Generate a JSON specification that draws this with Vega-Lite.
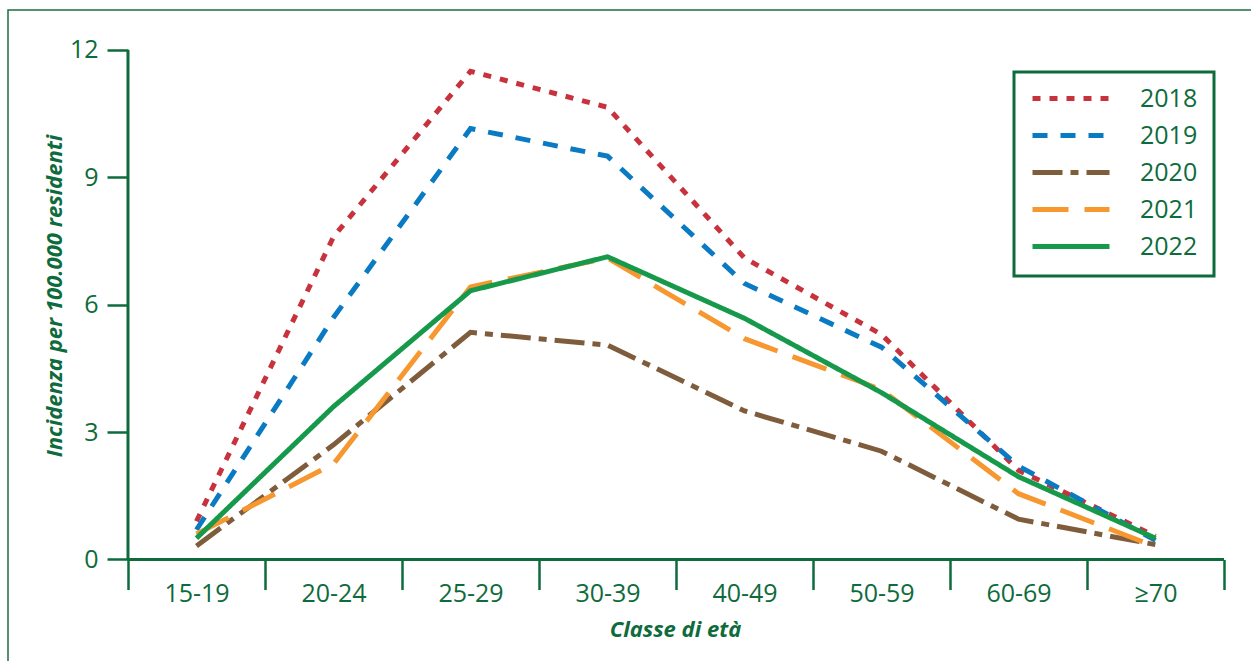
{
  "$schema": "https://vega.github.io/schema/vega-lite/v6.json",
  "width": 1250,
  "height": 660,
  "padding": {"left": 8, "top": 10, "right": 0, "bottom": 0},
  "config": {
    "font": "Open Sans",
    "view": {"stroke": "#1E6E40", "strokeWidth": 1.5}
  },
  "data": {
    "values": [
      {"age": "15-19", "year": "2018", "value": 0.9},
      {"age": "20-24", "year": "2018", "value": 7.6},
      {"age": "25-29", "year": "2018", "value": 11.5},
      {"age": "30-39", "year": "2018", "value": 10.65},
      {"age": "40-49", "year": "2018", "value": 7.1},
      {"age": "50-59", "year": "2018", "value": 5.3},
      {"age": "60-69", "year": "2018", "value": 2.1},
      {"age": "≥70", "year": "2018", "value": 0.55},
      {"age": "15-19", "year": "2019", "value": 0.7},
      {"age": "20-24", "year": "2019", "value": 5.7},
      {"age": "25-29", "year": "2019", "value": 10.15},
      {"age": "30-39", "year": "2019", "value": 9.5},
      {"age": "40-49", "year": "2019", "value": 6.5},
      {"age": "50-59", "year": "2019", "value": 5.0},
      {"age": "60-69", "year": "2019", "value": 2.2},
      {"age": "≥70", "year": "2019", "value": 0.45},
      {"age": "15-19", "year": "2020", "value": 0.32},
      {"age": "20-24", "year": "2020", "value": 2.7},
      {"age": "25-29", "year": "2020", "value": 5.35},
      {"age": "30-39", "year": "2020", "value": 5.05},
      {"age": "40-49", "year": "2020", "value": 3.5},
      {"age": "50-59", "year": "2020", "value": 2.55},
      {"age": "60-69", "year": "2020", "value": 0.95},
      {"age": "≥70", "year": "2020", "value": 0.35},
      {"age": "15-19", "year": "2021", "value": 0.6},
      {"age": "20-24", "year": "2021", "value": 2.25},
      {"age": "25-29", "year": "2021", "value": 6.42},
      {"age": "30-39", "year": "2021", "value": 7.1},
      {"age": "40-49", "year": "2021", "value": 5.2},
      {"age": "50-59", "year": "2021", "value": 4.0},
      {"age": "60-69", "year": "2021", "value": 1.55},
      {"age": "≥70", "year": "2021", "value": 0.3},
      {"age": "15-19", "year": "2022", "value": 0.5},
      {"age": "20-24", "year": "2022", "value": 3.6},
      {"age": "25-29", "year": "2022", "value": 6.33},
      {"age": "30-39", "year": "2022", "value": 7.13},
      {"age": "40-49", "year": "2022", "value": 5.68},
      {"age": "50-59", "year": "2022", "value": 3.93},
      {"age": "60-69", "year": "2022", "value": 1.95},
      {"age": "≥70", "year": "2022", "value": 0.5}
    ]
  },
  "layer": [
    {
      "mark": {"type": "line", "strokeWidth": 5, "strokeCap": "butt", "strokeJoin": "miter"},
      "encoding": {
        "x": {
          "field": "age", "type": "nominal", "bandPosition": 0.5,
          "scale": {"type": "band", "domain": ["15-19", "20-24", "25-29", "30-39", "40-49", "50-59", "60-69", "≥70"], "paddingInner": 0, "paddingOuter": 0.562, "align": 0.7792},
          "axis": {
            "title": "Classe di età", "orient": "bottom", "offset": -110.5, "domain": false,
            "tickBand": "extent", "tickSize": 30, "tickWidth": 2.5, "tickColor": "#0E6B3B",
            "labelColor": "#0E6B3B", "labelFontSize": 25, "labelPadding": -8, "labelAngle": 0, "labelOverlap": false,
            "titleFontSize": 22, "titleFontStyle": "italic", "titleFontWeight": "bold", "titleColor": "#0E6B3B", "titlePadding": 13, "titleX": 667,
            "grid": false
          }
        },
        "y": {
          "field": "value", "type": "quantitative",
          "scale": {"domain": [-2.603, 12.942], "zero": false, "nice": false},
          "axis": {
            "title": "Incidenza per 100.000 residenti", "orient": "left", "offset": -120, "domain": false,
            "values": [0, 3, 6, 9, 12], "tickSize": 21, "tickWidth": 2.5, "tickColor": "#0E6B3B",
            "labelColor": "#0E6B3B", "labelFontSize": 25, "labelPadding": 9,
            "titleFontSize": 22, "titleFontStyle": "italic", "titleFontWeight": "bold", "titleColor": "#0E6B3B", "titlePadding": 3, "titleY": 285.5,
            "grid": false
          }
        },
        "color": {
          "field": "year", "type": "nominal",
          "scale": {"domain": ["2018", "2019", "2020", "2021", "2022"], "range": ["#C7323D", "#0A7AC3", "#7F5C3B", "#F7972F", "#17994C"]},
          "legend": {"title": null, "orient": "none", "legendX": 1006, "legendY": 62, "symbolType": "stroke", "symbolSize": 5929, "symbolStrokeWidth": 5, "strokeColor": "#0E6B3B", "padding": 16, "labelFontSize": 25, "labelColor": "#0E6B3B", "labelOffset": 28, "rowPadding": 11, "clipHeight": 21,
            "encode": {"legend": {"update": {"strokeWidth": {"value": 3}}}}}
        },
        "strokeDash": {
          "field": "year", "type": "nominal",
          "scale": {"domain": ["2018", "2019", "2020", "2021", "2022"], "range": [[8, 9], [15, 13], [30, 8, 8, 8], [36, 16], [1, 0]]},
          "legend": {"title": null, "orient": "none", "legendX": 1006, "legendY": 62, "symbolType": "stroke", "symbolSize": 5929, "symbolStrokeWidth": 5, "strokeColor": "#0E6B3B", "padding": 16, "labelFontSize": 25, "labelColor": "#0E6B3B", "labelOffset": 28, "rowPadding": 11, "clipHeight": 21,
            "encode": {"legend": {"update": {"strokeWidth": {"value": 3}}}}}
        }
      }
    },
    {
      "data": {"values": [{}]},
      "mark": {"type": "rule", "color": "#0E6B3B", "strokeWidth": 3},
      "encoding": {
        "x": {"datum": "15-19", "type": "nominal", "bandPosition": 0,
              "scale": {"type": "band", "domain": ["15-19", "20-24", "25-29", "30-39", "40-49", "50-59", "60-69", "≥70"], "paddingInner": 0, "paddingOuter": 0.562, "align": 0.7792}},
        "y": {"datum": 0, "type": "quantitative", "scale": {"domain": [-2.603, 12.942], "zero": false, "nice": false}},
        "y2": {"datum": 12}
      }
    },
    {
      "data": {"values": [{}]},
      "mark": {"type": "rule", "color": "#0E6B3B", "strokeWidth": 3},
      "encoding": {
        "x": {"datum": "15-19", "type": "nominal", "bandPosition": 0,
              "scale": {"type": "band", "domain": ["15-19", "20-24", "25-29", "30-39", "40-49", "50-59", "60-69", "≥70"], "paddingInner": 0, "paddingOuter": 0.562, "align": 0.7792}},
        "x2": {"datum": "≥70", "bandPosition": 1},
        "y": {"datum": 0, "type": "quantitative", "scale": {"domain": [-2.603, 12.942], "zero": false, "nice": false}}
      }
    }
  ]
}
